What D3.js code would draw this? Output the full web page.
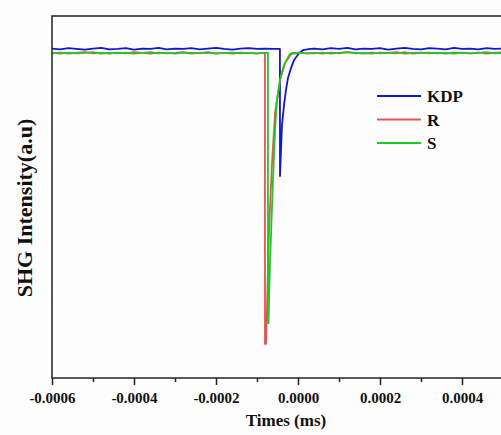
<!DOCTYPE html>
<html><head><meta charset="utf-8">
<script src="https://cdn.jsdelivr.net/npm/d3@7"></script>
<style>html,body{margin:0;padding:0;background:#fff;overflow:hidden}</style>
</head><body><svg id="c" width="501" height="435"></svg>
<script>
// ---- data ----
const majorTicks = [-0.0006, -0.0004, -0.0002, 0.0000, 0.0002, 0.0004];
const minorTicks = [-0.0005, -0.0003, -0.0001, 0.0001, 0.0003, 0.0005];
const seriesNames = ["KDP", "R", "S"];
const seriesColors = ["#1414d2", "#e25656", "#22c822"];

const preTime = [-0.0006,-0.00058,-0.00056,-0.00054,-0.00052,-0.0005,-0.00048,-0.00046,-0.00044,-0.00042,-0.0004,-0.00038,-0.00036,-0.00034,-0.00032,-0.0003,-0.00028,-0.00026,-0.00024,-0.00022,-0.0002,-0.00018,-0.00016,-0.00014,-0.00012,-0.0001];
const postTime = [0.00004,0.00006,0.00008,0.0001,0.00012,0.00014,0.00016,0.00018,0.0002,0.00022,0.00024,0.00026,0.00028,0.0003,0.00032,0.00034,0.00036,0.00038,0.0004,0.00042,0.00044,0.00046,0.00048,0.0005,0.00052];

const kdpPre  = [0.910,0.908,0.911,0.909,0.907,0.910,0.912,0.908,0.909,0.911,0.907,0.910,0.909,0.912,0.908,0.910,0.909,0.911,0.908,0.910,0.912,0.909,0.907,0.910,0.911,0.909];
const kdpDipTime = [-0.00008,-0.00006,-0.0000441,-0.0000439,-0.0000415,-0.000039,-0.0000341,-0.0000293,-0.0000244,-0.0000171,-0.0000098,0.000001,0.000012,0.00003];
const kdpDip  = [0.910,0.909,0.909,0.558,0.630,0.699,0.754,0.796,0.829,0.856,0.878,0.895,0.906,0.909];
const kdpPost = [0.910,0.908,0.911,0.909,0.912,0.908,0.910,0.909,0.911,0.907,0.910,0.912,0.909,0.908,0.911,0.910,0.908,0.912,0.909,0.910,0.908,0.911,0.909,0.910,0.908];

const rPre  = [0.897,0.899,0.896,0.898,0.900,0.897,0.898,0.896,0.899,0.897,0.900,0.898,0.896,0.899,0.897,0.898,0.900,0.896,0.898,0.899,0.897,0.898,0.896,0.899,0.898,0.897];
const rDipTime = [-0.00009,-0.0000807,-0.0000805,-0.000078,-0.0000707,-0.0000634,-0.000056,-0.0000439,-0.0000317,-0.0000146,0.000005,0.00002];
const rDip  = [0.898,0.898,0.094,0.094,0.409,0.594,0.732,0.823,0.870,0.898,0.899,0.897];
const rPost = [0.898,0.896,0.899,0.897,0.900,0.898,0.896,0.899,0.897,0.898,0.900,0.896,0.898,0.899,0.897,0.898,0.896,0.899,0.898,0.897,0.899,0.896,0.898,0.900,0.897];

const sPre  = [0.898,0.896,0.899,0.897,0.898,0.900,0.896,0.898,0.897,0.899,0.896,0.898,0.900,0.897,0.898,0.896,0.899,0.898,0.897,0.900,0.896,0.898,0.899,0.897,0.898,0.896];
const sDipTime = [-0.00009,-0.0000734,-0.0000732,-0.000072,-0.0000683,-0.000061,-0.000056,-0.0000512,-0.0000439,-0.0000341,-0.0000195,0.000005,0.00002];
const sDip  = [0.898,0.898,0.152,0.152,0.318,0.547,0.685,0.768,0.823,0.865,0.895,0.898,0.897];
const sPost = [0.897,0.899,0.896,0.898,0.900,0.897,0.898,0.896,0.899,0.898,0.897,0.900,0.896,0.898,0.899,0.897,0.898,0.896,0.899,0.897,0.898,0.900,0.897,0.898,0.896];

// ---- build series ----
function build(pre, dipT, dip, post){
  const pts = [];
  preTime.forEach((t,i)=>pts.push([t, pre[i]]));
  dipT.forEach((t,i)=>pts.push([t, dip[i]]));
  postTime.forEach((t,i)=>pts.push([t, post[i]]));
  return pts;
}
const series = [
  build(kdpPre, kdpDipTime, kdpDip, kdpPost),
  build(rPre, rDipTime, rDip, rPost),
  build(sPre, sDipTime, sDip, sPost)
];

// ---- layout ----
const L = 52, T = 16, B = 378, R = 544;
const svg = d3.select("#c");
const x = d3.scaleLinear().domain([-0.0006, 0.0006]).range([L, R]);
const y = d3.scaleLinear().domain([0, 1]).range([B, T]);
const font = "'Liberation Serif','Times New Roman',serif";

svg.append("rect").attr("width",501).attr("height",435).attr("fill","#fdfdfd");

svg.append("defs").append("clipPath").attr("id","clip")
  .append("rect").attr("x",L).attr("y",T).attr("width",R-L).attr("height",B-T);

const line = d3.line().x(d=>x(d[0])).y(d=>y(d[1]));
const g = svg.append("g").attr("clip-path","url(#clip)");
series.forEach((s,i)=>{
  g.append("path").datum(s).attr("d",line).attr("fill","none")
   .attr("stroke",seriesColors[i]).attr("stroke-width",1.8).attr("stroke-linejoin","round");
});

// frame
svg.append("rect").attr("x",L).attr("y",T).attr("width",R-L).attr("height",B-T)
  .attr("fill","none").attr("stroke","#222").attr("stroke-width",1.5);

// x axis
const ax = svg.append("g").attr("transform",`translate(0,${B})`)
  .call(d3.axisBottom(x).tickValues(majorTicks).tickSize(7).tickPadding(7)
    .tickFormat(d=>d.toFixed(4)));
ax.select(".domain").remove();
ax.selectAll(".tick line").attr("stroke","#222").attr("stroke-width",1.5);
ax.selectAll(".tick text").attr("font-family",font).attr("font-weight","bold")
  .attr("font-size",15).attr("fill","#111");
const axm = svg.append("g").attr("transform",`translate(0,${B})`)
  .call(d3.axisBottom(x).tickValues(minorTicks).tickSize(4).tickFormat(""));
axm.select(".domain").remove();
axm.selectAll(".tick line").attr("stroke","#222").attr("stroke-width",1.5);

// titles
svg.append("text").attr("x",286).attr("y",426).attr("text-anchor","middle")
  .attr("font-family",font).attr("font-weight","bold").attr("font-size",17).attr("fill","#111")
  .text("Times (ms)");
svg.append("text").attr("transform","translate(32,208) rotate(-90)").attr("text-anchor","middle")
  .attr("font-family",font).attr("font-weight","bold").attr("font-size",22).attr("fill","#111")
  .text("SHG Intensity(a.u)");

// legend
const leg = svg.append("g");
seriesNames.forEach((n,i)=>{
  const yy = 96 + i*23.5;
  leg.append("line").attr("x1",377).attr("x2",421).attr("y1",yy).attr("y2",yy)
    .attr("stroke",seriesColors[i]).attr("stroke-width",1.8);
  leg.append("text").attr("x",427).attr("y",yy+6).attr("font-family",font)
    .attr("font-weight","bold").attr("font-size",17).attr("fill","#111").text(n);
});
</script></body></html>
